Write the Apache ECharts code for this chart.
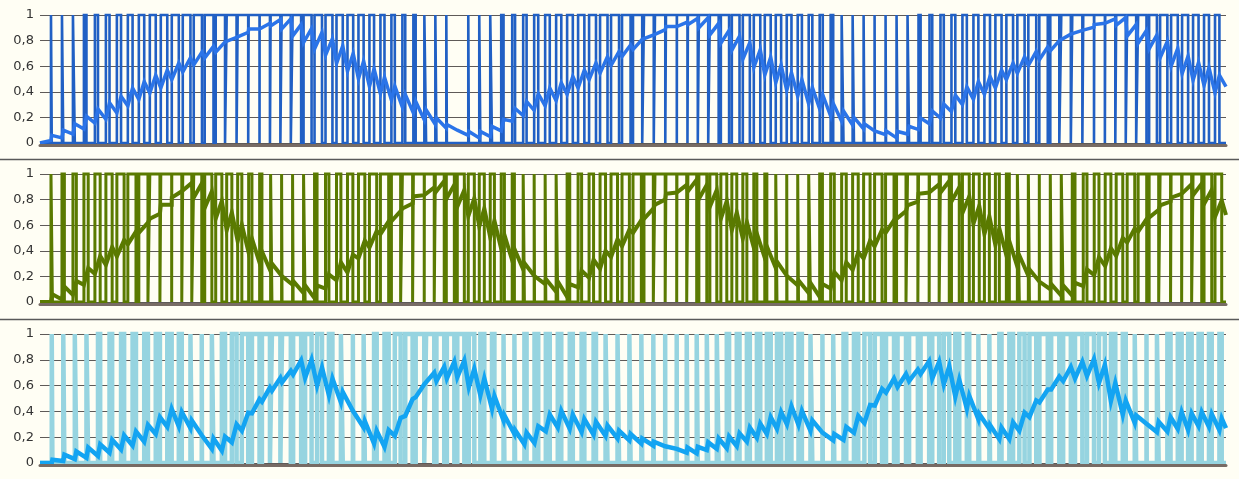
<!DOCTYPE html>
<html><head><meta charset="utf-8">
<script src="https://cdn.jsdelivr.net/npm/echarts@6/dist/echarts.min.js"></script>
<style>html,body{margin:0;padding:0;background:#FFFEF4;}#c{width:1239px;height:479px;}</style>
</head><body><div id="c"></div>
<script>
// number of PWM periods on the shared x axis; x is counted in hundredths of a period
const periods = 108;
const unit = 100;
const yTickLabels = ['0', '0,2', '0,4', '0,6', '0,8', '1'];

// ---- top panel (blue) ----
const topDuty = [0.00,0.07,0.12,0.17,0.23,0.28,0.33,0.38,0.43,0.49,
 0.54,0.59,0.64,0.70,0.75,0.80,0.85,0.90,0.96,0.99,
 0.94,0.89,0.84,0.78,0.73,0.68,0.63,0.57,0.52,0.47,
 0.42,0.37,0.31,0.26,0.21,0.16,0.10,0.05,0.00,0.05,
 0.10,0.16,0.21,0.26,0.31,0.37,0.42,0.47,0.52,0.57,
 0.63,0.68,0.73,0.78,0.84,0.89,0.94,0.99,0.96,0.90,
 0.85,0.80,0.75,0.70,0.64,0.59,0.54,0.49,0.43,0.38,
 0.33,0.28,0.23,0.17,0.12,0.07,0.02,0.04,0.09,0.14,
 0.19,0.25,0.30,0.35,0.40,0.45,0.51,0.56,0.61,0.66,
 0.72,0.77,0.82,0.87,0.92,0.98,0.97,0.92,0.87,0.82,
 0.76,0.71,0.66,0.61,0.55,0.50,0.45,0.40];
const topLevel = [0.00,0.04,0.07,0.11,0.16,0.21,0.25,0.30,0.36,0.41,
 0.46,0.50,0.56,0.61,0.66,0.71,0.75,0.80,0.85,0.89,
 0.92,0.94,0.93,0.88,0.84,0.80,0.75,0.69,0.63,0.57,
 0.51,0.45,0.39,0.33,0.28,0.22,0.17,0.13,0.10,0.075,
 0.065,0.09,0.14,0.22,0.27,0.32,0.36,0.40,0.45,0.50,
 0.56,0.61,0.66,0.72,0.77,0.82,0.87,0.91,0.93,0.95,
 0.94,0.89,0.83,0.78,0.72,0.66,0.60,0.54,0.48,0.43,
 0.37,0.32,0.26,0.21,0.17,0.13,0.10,0.08,0.065,0.10,
 0.15,0.20,0.25,0.31,0.37,0.41,0.45,0.50,0.56,0.61,
 0.66,0.70,0.76,0.82,0.86,0.90,0.93,0.95,0.95,0.88,
 0.83,0.79,0.73,0.67,0.61,0.56,0.52,0.46,0.44];
const topRipple = [0.00,0.04,0.06,0.08,0.10,0.11,0.13,0.13,0.14,0.14,
 0.14,0.14,0.13,0.11,0.10,0.09,0.08,0.05,0.03,0.00,
 0.03,0.05,0.08,0.09,0.11,0.13,0.13,0.14,0.14,0.14,
 0.14,0.13,0.11,0.10,0.09,0.08,0.05,0.03,0.00,0.03,
 0.05,0.08,0.09,0.10,0.11,0.13,0.14,0.14,0.14,0.14,
 0.13,0.13,0.11,0.09,0.08,0.05,0.03,0.00,0.03,0.05,
 0.08,0.09,0.10,0.11,0.13,0.14,0.14,0.14,0.14,0.13,
 0.13,0.11,0.10,0.08,0.06,0.04,0.01,0.03,0.05,0.06,
 0.09,0.10,0.11,0.13,0.14,0.14,0.14,0.14,0.13,0.13,
 0.11,0.10,0.08,0.06,0.04,0.01,0.01,0.04,0.06,0.09,
 0.10,0.11,0.13,0.14,0.14,0.14,0.14,0.14];

// ---- middle panel (olive) ----
const midDuty = [0.00,0.13,0.22,0.31,0.39,0.48,0.57,0.66,0.74,0.83,
 0.92,0.99,0.91,0.82,0.73,0.65,0.56,0.47,0.38,0.30,
 0.21,0.12,0.04,0.05,0.14,0.23,0.31,0.40,0.49,0.58,
 0.66,0.75,0.84,0.93,0.99,0.90,0.81,0.73,0.64,0.55,
 0.46,0.38,0.29,0.20,0.11,0.03,0.06,0.15,0.24,0.32,
 0.41,0.50,0.59,0.67,0.76,0.85,0.93,0.98,0.89,0.80,
 0.72,0.63,0.54,0.45,0.37,0.28,0.19,0.11,0.02,0.07,
 0.16,0.25,0.33,0.42,0.51,0.59,0.68,0.77,0.86,0.94,
 0.97,0.88,0.80,0.71,0.62,0.53,0.45,0.36,0.27,0.18,
 0.10,0.01,0.08,0.17,0.25,0.34,0.43,0.52,0.60,0.69,
 0.78,0.87,0.95,0.96,0.87,0.79,0.70,0.61];
const midLevel = [0.00,0.03,0.07,0.11,0.20,0.29,0.36,0.42,0.50,0.58,
 0.67,0.76,0.84,0.89,0.87,0.80,0.72,0.63,0.54,0.44,
 0.35,0.27,0.21,0.15,0.10,0.08,0.16,0.24,0.30,0.41,
 0.49,0.58,0.67,0.75,0.83,0.87,0.90,0.86,0.81,0.74,
 0.66,0.57,0.47,0.37,0.28,0.21,0.16,0.12,0.09,0.18,
 0.26,0.33,0.42,0.50,0.59,0.69,0.78,0.85,0.89,0.91,
 0.86,0.81,0.72,0.63,0.56,0.48,0.39,0.29,0.21,0.15,
 0.11,0.09,0.17,0.24,0.32,0.41,0.50,0.59,0.68,0.77,
 0.85,0.89,0.90,0.84,0.76,0.68,0.60,0.51,0.42,0.32,
 0.23,0.16,0.12,0.09,0.10,0.19,0.28,0.35,0.43,0.52,
 0.60,0.69,0.77,0.83,0.89,0.88,0.82,0.73,0.68];
const midRipple = [0.00,0.06,0.10,0.11,0.13,0.14,0.14,0.13,0.10,0.08,
 0.04,0.00,0.05,0.08,0.11,0.13,0.14,0.14,0.13,0.11,
 0.09,0.06,0.01,0.03,0.06,0.10,0.11,0.14,0.14,0.14,
 0.13,0.10,0.08,0.04,0.01,0.05,0.09,0.11,0.13,0.14,
 0.14,0.13,0.11,0.09,0.05,0.01,0.04,0.08,0.10,0.13,
 0.14,0.14,0.14,0.13,0.10,0.08,0.04,0.01,0.05,0.09,
 0.11,0.13,0.14,0.14,0.13,0.11,0.09,0.05,0.01,0.04,
 0.08,0.10,0.13,0.14,0.14,0.14,0.13,0.10,0.06,0.03,
 0.01,0.06,0.09,0.11,0.13,0.14,0.14,0.13,0.11,0.09,
 0.05,0.00,0.04,0.08,0.10,0.13,0.14,0.14,0.14,0.11,
 0.10,0.06,0.03,0.03,0.06,0.09,0.11,0.13];

// ---- bottom panel (cyan): pulse edges inside each period ----
const botRise = [0.00,0.07,0.12,0.17,0.23,0.28,0.33,0.38,0.43,0.49,
 0.54,0.59,0.64,0.70,0.73,0.65,0.56,0.47,0.38,0.30,
 0.21,0.12,0.04,0.05,0.14,0.23,0.31,0.40,0.49,0.47,
 0.42,0.37,0.31,0.26,0.21,0.16,0.10,0.05,0.00,0.05,
 0.10,0.16,0.21,0.20,0.11,0.03,0.06,0.15,0.24,0.32,
 0.41,0.50,0.59,0.67,0.76,0.85,0.93,0.98,0.89,0.80,
 0.72,0.63,0.54,0.45,0.37,0.28,0.19,0.11,0.02,0.07,
 0.16,0.25,0.23,0.17,0.12,0.07,0.02,0.04,0.09,0.14,
 0.19,0.25,0.30,0.35,0.40,0.45,0.45,0.36,0.27,0.18,
 0.10,0.01,0.08,0.17,0.25,0.34,0.43,0.52,0.60,0.69,
 0.76,0.71,0.66,0.61,0.55,0.50,0.45,0.40];
const botFall = [0.00,0.13,0.22,0.31,0.39,0.48,0.57,0.66,0.74,0.83,
 0.92,0.99,0.91,0.82,0.75,0.80,0.85,0.90,0.96,0.99,
 0.94,0.89,0.84,0.78,0.73,0.68,0.63,0.57,0.52,0.58,
 0.66,0.75,0.84,0.93,0.99,0.90,0.81,0.73,0.64,0.55,
 0.46,0.38,0.29,0.26,0.31,0.37,0.42,0.47,0.52,0.57,
 0.63,0.68,0.73,0.78,0.84,0.89,0.94,0.99,0.96,0.90,
 0.85,0.80,0.75,0.70,0.64,0.59,0.54,0.49,0.43,0.38,
 0.33,0.28,0.33,0.42,0.51,0.59,0.68,0.77,0.86,0.94,
 0.97,0.88,0.80,0.71,0.62,0.53,0.51,0.56,0.61,0.66,
 0.72,0.77,0.82,0.87,0.92,0.98,0.97,0.92,0.87,0.82,
 0.78,0.87,0.95,0.96,0.87,0.79,0.70,0.61];
const botLevel = [0.00,0.01,0.04,0.06,0.08,0.10,0.13,0.16,0.19,0.23,
 0.29,0.35,0.34,0.30,0.22,0.15,0.15,0.23,0.32,0.44,
 0.53,0.61,0.67,0.74,0.73,0.67,0.59,0.51,0.41,0.30,
 0.20,0.19,0.28,0.43,0.56,0.65,0.69,0.72,0.73,0.66,
 0.59,0.47,0.35,0.24,0.19,0.22,0.31,0.34,0.32,0.29,
 0.27,0.25,0.22,0.20,0.17,0.15,0.13,0.11,0.10,0.10,
 0.13,0.15,0.16,0.18,0.22,0.25,0.29,0.33,0.37,0.35,
 0.29,0.24,0.20,0.23,0.30,0.38,0.51,0.60,0.64,0.68,
 0.74,0.72,0.68,0.58,0.47,0.36,0.28,0.23,0.25,0.32,
 0.42,0.52,0.62,0.69,0.72,0.74,0.69,0.55,0.43,0.34,
 0.31,0.28,0.30,0.33,0.32,0.34,0.33,0.30,0.27];
const botRipple = [0.00,0.03,0.05,0.06,0.08,0.09,0.10,0.11,0.11,0.13,
 0.13,0.14,0.11,0.06,0.01,0.08,0.11,0.14,0.14,0.11,
 0.11,0.10,0.09,0.11,0.14,0.14,0.13,0.08,0.01,0.05,
 0.10,0.13,0.14,0.13,0.10,0.10,0.11,0.13,0.13,0.14,
 0.13,0.10,0.04,0.03,0.09,0.13,0.13,0.13,0.11,0.10,
 0.10,0.08,0.06,0.05,0.04,0.03,0.00,0.00,0.04,0.05,
 0.06,0.08,0.09,0.10,0.11,0.11,0.13,0.13,0.14,0.11,
 0.08,0.01,0.05,0.10,0.13,0.14,0.13,0.11,0.10,0.09,
 0.10,0.13,0.14,0.13,0.10,0.04,0.03,0.09,0.13,0.14,
 0.13,0.10,0.10,0.11,0.13,0.13,0.14,0.14,0.11,0.06,
 0.01,0.08,0.11,0.13,0.13,0.11,0.10,0.09];

const zeros = topDuty.map(() => 0);
const X = (k, f) => k * unit + Math.round(f * unit);

function pwmPoints(rise, fall) {
  const pts = [[0, 0]];
  for (let k = 0; k < periods; k++) {
    if (fall[k] > rise[k]) {
      const a = X(k, rise[k]), b = X(k, fall[k]);
      pts.push([a, 0], [a, 1], [b, 1], [b, 0]);
    }
  }
  pts.push([periods * unit, 0]);
  return pts;
}
function levelPoints(rise, fall, level, ripple) {
  const pts = [];
  for (let k = 0; k < periods; k++) {
    pts.push([X(k, rise[k]), Math.max(0, level[k] - ripple[k] / 2)]);
    pts.push([X(k, fall[k]), level[k] + ripple[k] / 2]);
  }
  pts.push([periods * unit, level[periods]]);
  return pts;
}

const grids = [
  { left: 40, right: 13, top: 15, height: 128 },
  { left: 40, right: 13, top: 174, height: 128 },
  { left: 40, right: 13, top: 334, height: 129 }
];
const xAxes = grids.map((g, i) => ({
  gridIndex: i, type: 'value', min: 0, max: periods * unit, z: 10,
  axisLine: { show: true, onZero: false, lineStyle: { color: '#776B64', width: 3 } },
  offset: 2, axisTick: { show: false }, axisLabel: { show: false }, splitLine: { show: false }
}));
const yAxes = grids.map((g, i) => ({
  gridIndex: i, type: 'value', min: 0, max: 1, interval: 0.2,
  axisLine: { show: false }, axisTick: { show: false },
  splitLine: { lineStyle: { color: '#5E5A58', width: 1 } },
  axisLabel: {
    color: '#333333', fontSize: 13, fontFamily: 'DejaVu Sans', margin: 6,
    formatter: v => yTickLabels[Math.round(v * 5)]
  }
}));

function line(i, data, color, width, z) {
  return {
    type: 'line', xAxisIndex: i, yAxisIndex: i, data, symbol: 'none', showSymbol: false,
    clip: false, z, silent: true, animation: false,
    lineStyle: { color, width, join: 'miter', cap: 'butt' }
  };
}

const series = [
  line(0, pwmPoints(zeros, topDuty), '#2160C4', 2.6, 2),
  line(0, levelPoints(zeros, topDuty, topLevel, topRipple), '#2B74E8', 3.5, 3),
  line(1, pwmPoints(zeros, midDuty), '#5A7A00', 3, 2),
  line(1, levelPoints(zeros, midDuty, midLevel, midRipple), '#5A7A00', 4, 3),
  line(2, pwmPoints(botRise, botFall), '#96D4E0', 4.5, 2),
  line(2, levelPoints(botRise, botFall, botLevel, botRipple), '#13A4F2', 4.5, 3)
];

const chart = echarts.init(document.getElementById('c'), null, { renderer: 'canvas' });
chart.setOption({
  backgroundColor: '#FFFEF4',
  animation: false,
  grid: grids,
  xAxis: xAxes,
  yAxis: yAxes,
  series,
  graphic: [
    { type: 'line', shape: { x1: 0, y1: 159.5, x2: 1239, y2: 159.5 }, style: { stroke: '#595959', lineWidth: 1.5 }, silent: true },
    { type: 'line', shape: { x1: 0, y1: 319.5, x2: 1239, y2: 319.5 }, style: { stroke: '#595959', lineWidth: 1.5 }, silent: true }
  ]
});
</script>
</body></html>
